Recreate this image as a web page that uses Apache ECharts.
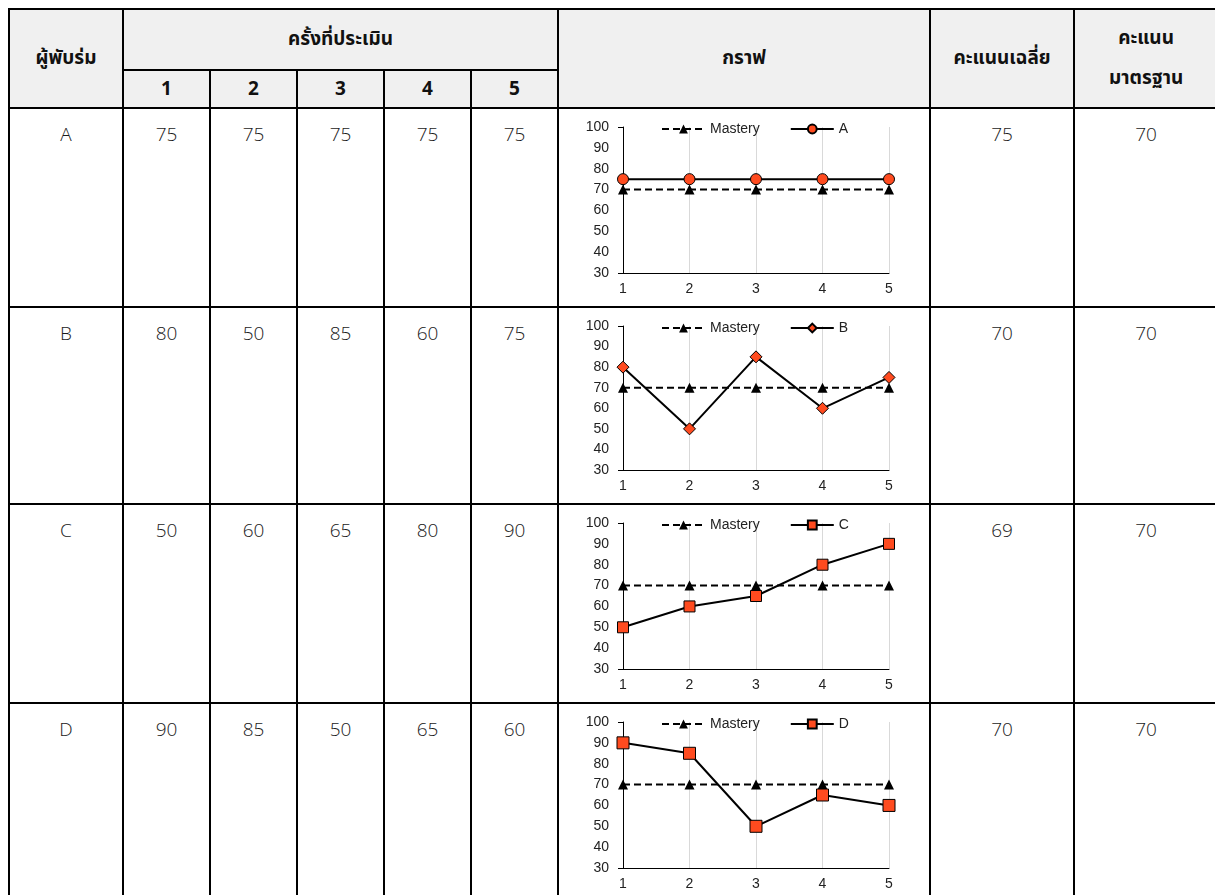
<!DOCTYPE html>
<html>
<head>
<meta charset="utf-8">
<script src="https://cdn.jsdelivr.net/npm/echarts@6/dist/echarts.min.js"></script>
<style>
  html, body { margin: 0; padding: 0; background: #fff; }
  body { width: 1215px; height: 895px; overflow: hidden; position: relative; }
  #wrap { position: absolute; left: 0; top: 0; width: 1400px; height: 895px; }
  table {
    position: absolute; left: 8px; top: 8px; width: 1211px;
    border-collapse: collapse; table-layout: fixed;
    font-family: "Noto Sans Thai", "Noto Sans", "Open Sans", sans-serif;
  }
  td, th { border: 2px solid #000; padding: 0; }
  th { background: #f0f0f0; font-weight: bold; font-size: 19px; color: #111; text-align: center; vertical-align: middle; }
  td.val { font-size: 19px; font-weight: 300; color: #1a1a1a; text-align: center; vertical-align: top; padding-top: 12px; font-family: "Open Sans", sans-serif; }
  td.chart { vertical-align: top; }
  .cbox { width: 371px; }
</style>
</head>
<body>
<div id="wrap"><table id="tbl"></table></div>
<script>
// Assessment data for each participant
const participants = ['A', 'B', 'C', 'D'];
const rounds = ['1', '2', '3', '4', '5'];
const scoresA = [75, 75, 75, 75, 75];
const scoresB = [80, 50, 85, 60, 75];
const scoresC = [50, 60, 65, 80, 90];
const scoresD = [90, 85, 50, 65, 60];
const masteryLevel = [70, 70, 70, 70, 70];
const averageScores = [75, 70, 69, 70];
const standardScores = [70, 70, 70, 70];
const symbols = ['circle', 'diamond', 'rect', 'rect'];
const symbolSizes = [11, 12, 11, 12];

// Header labels
const hParticipant = 'ผู้พับร่ม';
const hRounds = 'ครั้งที่ประเมิน';
const hGraph = 'กราฟ';
const hAverage = 'คะแนนเฉลี่ย';
const hStandard = ['คะแนน', 'มาตรฐาน'];

const allScores = [scoresA, scoresB, scoresC, scoresD];
const colWidths = [114, 87, 87, 87, 87, 87, 372, 144, 144];
const rowHeights = [199, 197, 199, 199];

const tbl = document.getElementById('tbl');
let html = '<colgroup>' + colWidths.map(w => `<col style="width:${w}px">`).join('') + '</colgroup>';
html += `<tr style="height:61px"><th rowspan="2">${hParticipant}</th><th colspan="5">${hRounds}</th>` +
        `<th rowspan="2">${hGraph}</th><th rowspan="2">${hAverage}</th>` +
        `<th rowspan="2" style="line-height:40px">${hStandard[0]}<br>${hStandard[1]}</th></tr>`;
html += '<tr style="height:38px">' + rounds.map(r => `<th>${r}</th>`).join('') + '</tr>';
participants.forEach((p, i) => {
  html += `<tr style="height:${rowHeights[i]}px"><td class="val">${p}</td>` +
    allScores[i].map(v => `<td class="val">${v}</td>`).join('') +
    `<td class="chart"><div class="cbox" id="c${i}" style="height:${rowHeights[i] - 2}px"></div></td>` +
    `<td class="val">${averageScores[i]}</td><td class="val">${standardScores[i]}</td></tr>`;
});
tbl.innerHTML = html;

const font = 'Liberation Sans, Arial, sans-serif';
participants.forEach((p, i) => {
  const chart = echarts.init(document.getElementById('c' + i), null, { renderer: 'canvas' });
  chart.setOption({
    animation: false,
    legend: {
      left: 97, top: 8, itemWidth: 43, itemHeight: 11, itemGap: 30,
      textStyle: { fontFamily: font, fontSize: 14, color: '#222' },
      data: ['Mastery', p]
    },
    grid: { left: 64, right: 41, top: 18, bottom: 33 },
    xAxis: {
      type: 'category', data: rounds, boundaryGap: false,
      axisLine: { lineStyle: { color: '#000', width: 1 } },
      axisTick: { show: false },
      axisLabel: { fontFamily: font, fontSize: 14, color: '#222', margin: 9 },
      splitLine: { show: true, lineStyle: { color: '#d9d9d9', width: 1 } }
    },
    yAxis: {
      type: 'value', min: 30, max: 100, interval: 10,
      axisLine: { show: true, lineStyle: { color: '#000', width: 1 } },
      axisTick: { show: true, length: 5, customValues: [30, 100], lineStyle: { color: '#000' } },
      axisLabel: { fontFamily: font, fontSize: 14, color: '#222', margin: 14 },
      splitLine: { show: false }
    },
    series: [
      {
        name: 'Mastery', type: 'line', data: masteryLevel,
        symbol: 'triangle', symbolSize: 10,
        lineStyle: { color: '#000', width: 2, type: [7, 4] },
        itemStyle: { color: '#000' }
      },
      {
        name: p, type: 'line', data: allScores[i],
        symbol: symbols[i], symbolSize: symbolSizes[i],
        lineStyle: { color: '#000', width: 2 },
        itemStyle: { color: '#ff4b1f', borderColor: '#000', borderWidth: 1 }
      }
    ]
  });
});
</script>
</body>
</html>
